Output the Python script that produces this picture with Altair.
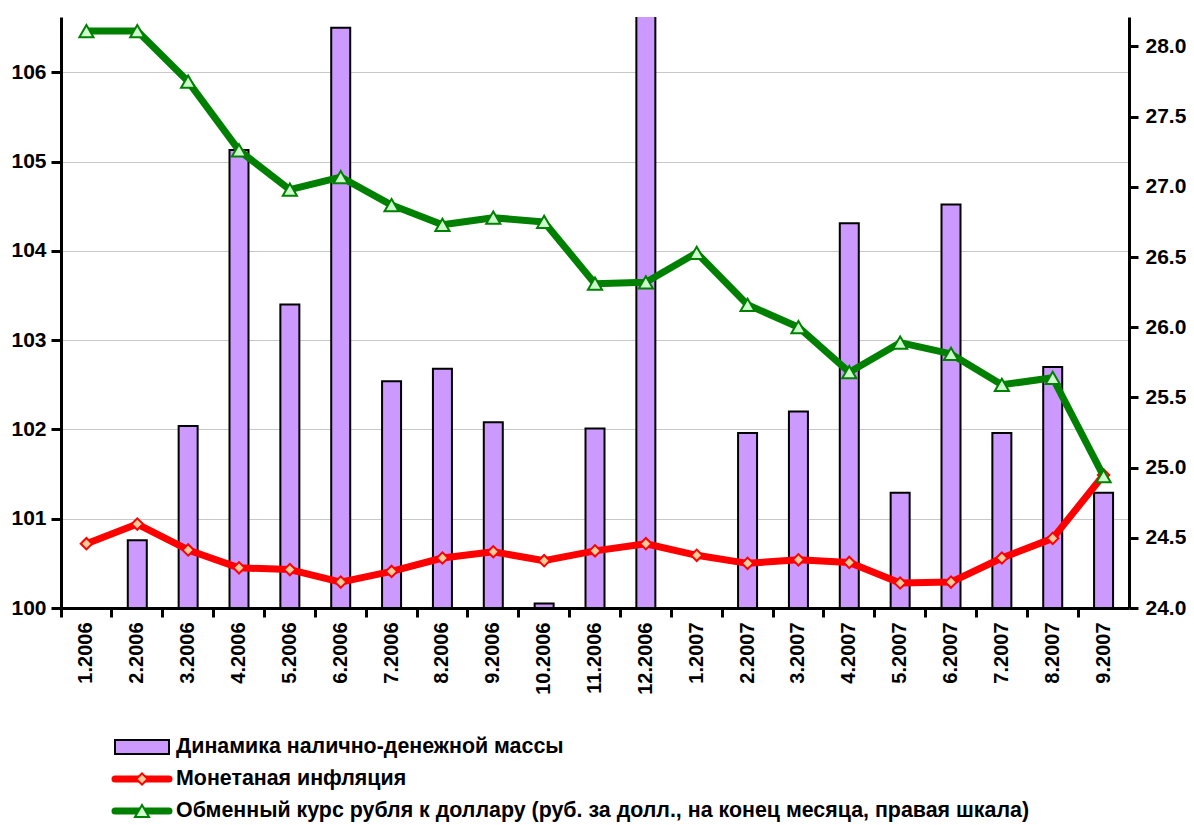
import altair as alt
import pandas as pd

months = ["1.2006", "2.2006", "3.2006", "4.2006", "5.2006", "6.2006", "7.2006",
          "8.2006", "9.2006", "10.2006", "11.2006", "12.2006", "1.2007", "2.2007",
          "3.2007", "4.2007", "5.2007", "6.2007", "7.2007", "8.2007", "9.2007"]

money = [None, 100.76, 102.04, 105.13, 103.40, 106.50, 102.54, 102.68, 102.08, 100.05,
         102.01, 107.2, None, 101.96, 102.20, 104.31, 101.29, 104.52, 101.96, 102.70, 101.29]

inflation = [100.72, 100.94, 100.65, 100.45, 100.43, 100.29, 100.41, 100.56, 100.63, 100.53,
             100.64, 100.72, 100.59, 100.50, 100.54, 100.51, 100.28, 100.29, 100.56, 100.78, 101.49]

rate = [28.11, 28.11, 27.75, 27.26, 26.98, 27.07, 26.87, 26.73, 26.78, 26.75,
        26.31, 26.32, 26.53, 26.16, 26.00, 25.68, 25.89, 25.81, 25.59, 25.64, 24.94]

series_names = ["Динамика налично-денежной массы",
                "Монетаная инфляция",
                "Обменный курс рубля к доллару (руб. за долл., на конец месяца, правая шкала)"]
series_kind = ["bar", "red", "green"]

left_ticks = [100, 101, 102, 103, 104, 105, 106]
right_ticks = [24.0, 24.5, 25.0, 25.5, 26.0, 26.5, 27.0, 27.5, 28.0]
left_domain = [100, 106.62]
right_domain = [24.0, 28.21]

FONT = "Liberation Sans"

df = pd.DataFrame({"month": months, "money": money, "infl": inflation, "rate": rate})

x_axis = alt.Axis(title=None, labelAngle=-90, labelFont=FONT, labelFontWeight="bold",
                  labelFontSize=20, labelColor="black", labelPadding=5,
                  bandPosition=0, tickSize=9, tickWidth=3,
                  tickColor="black", domainColor="black", domainWidth=3, grid=False)
x_enc = alt.X("month:N", sort=months,
              scale=alt.Scale(domain=months, paddingInner=0, paddingOuter=0),
              axis=x_axis)

left_axis = alt.Axis(title=None, values=left_ticks, format="d", labelFont=FONT,
                     labelFontWeight="bold", labelFontSize=21, labelColor="black",
                     labelPadding=5, tickSize=10, tickWidth=3, tickColor="black",
                     domainColor="black", domainWidth=3, grid=True,
                     gridColor="#c8c8c8", gridWidth=1.2)
left_scale = alt.Scale(domain=left_domain, nice=False, zero=False)
y_left = alt.Y("money:Q", scale=left_scale, axis=left_axis)

base = alt.Chart(df)

bars = base.mark_bar(size=19, color="#cc99ff", stroke="black", strokeWidth=2,
                     clip=True).encode(
    x=x_enc, y=y_left, y2=alt.datum(100))

red_line = base.mark_line(color="#ff0000", strokeWidth=7, strokeJoin="round",
                          strokeCap="round").encode(
    x=x_enc, y=alt.Y("infl:Q", scale=left_scale, axis=left_axis))
red_pts = base.mark_point(shape="diamond", size=130, filled=True, fill="#ffcc99",
                          stroke="#ff0000", strokeWidth=2, opacity=1).encode(
    x=x_enc, y=alt.Y("infl:Q", scale=left_scale, axis=left_axis))

right_axis = alt.Axis(title=None, orient="right", values=right_ticks, format=".1f",
                      labelFont=FONT, labelFontWeight="bold", labelFontSize=21,
                      labelColor="black", labelPadding=7, tickSize=9, tickWidth=3,
                      tickColor="black", domainColor="black", domainWidth=3, grid=False)
right_scale = alt.Scale(domain=right_domain, nice=False, zero=False)

green_line = base.mark_line(color="#008000", strokeWidth=7, strokeJoin="round",
                            strokeCap="round").encode(
    x=x_enc, y=alt.Y("rate:Q", scale=right_scale, axis=right_axis))
green_pts = base.mark_point(shape="triangle-up", size=200, filled=True, fill="#ccffcc",
                            stroke="#008000", strokeWidth=2, opacity=1).encode(
    x=x_enc, y=alt.Y("rate:Q", scale=right_scale, axis=right_axis))

left_layer = alt.layer(bars, red_line, red_pts)
right_layer = alt.layer(green_line, green_pts)

main = alt.layer(left_layer, right_layer).resolve_scale(y="independent").properties(
    width=1068, height=591)

# legend drawn as a small panel beneath the plot
leg_df = pd.DataFrame({"name": series_names, "kind": series_kind})
y_leg = alt.Y("name:N", scale=alt.Scale(type="point", domain=series_names, padding=0.25),
              axis=None)
leg_base = alt.Chart(leg_df)

rect_path = "M-1,-0.26L1,-0.26L1,0.26L-1,0.26Z"
leg_bar = leg_base.transform_filter(alt.datum.kind == "bar").mark_point(
    shape=rect_path, size=2916, filled=True, fill="#cc99ff", stroke="black",
    strokeWidth=2, opacity=1).encode(x=alt.value(81), y=y_leg)
leg_red = leg_base.transform_filter(alt.datum.kind == "red").mark_rule(
    color="#ff0000", strokeWidth=7, strokeCap="round").encode(
    x=alt.value(54), x2=alt.value(108), y=y_leg)
leg_red_pt = leg_base.transform_filter(alt.datum.kind == "red").mark_point(
    shape="diamond", size=130, filled=True, fill="#ffcc99", stroke="#ff0000",
    strokeWidth=2, opacity=1).encode(x=alt.value(81), y=y_leg)
leg_green = leg_base.transform_filter(alt.datum.kind == "green").mark_rule(
    color="#008000", strokeWidth=7, strokeCap="round").encode(
    x=alt.value(54), x2=alt.value(108), y=y_leg)
leg_green_pt = leg_base.transform_filter(alt.datum.kind == "green").mark_point(
    shape="triangle-up", size=200, filled=True, fill="#ccffcc", stroke="#008000",
    strokeWidth=2, opacity=1).encode(x=alt.value(81), y=y_leg)
leg_text = leg_base.mark_text(align="left", baseline="middle", font=FONT,
                              fontWeight="bold", fontSize=21.4, color="black").encode(
    x=alt.value(115), y=y_leg, text="name:N")

legend = alt.layer(leg_bar, leg_red, leg_red_pt, leg_green, leg_green_pt, leg_text).properties(
    width=1068, height=80)

chart = alt.vconcat(main, legend, spacing=40).properties(
    padding={"left": 10, "top": 17, "right": 0, "bottom": 0},
    background="white"
).configure_view(stroke=None)

chart.save("out.html", embed_options={"renderer": "svg", "actions": False})
